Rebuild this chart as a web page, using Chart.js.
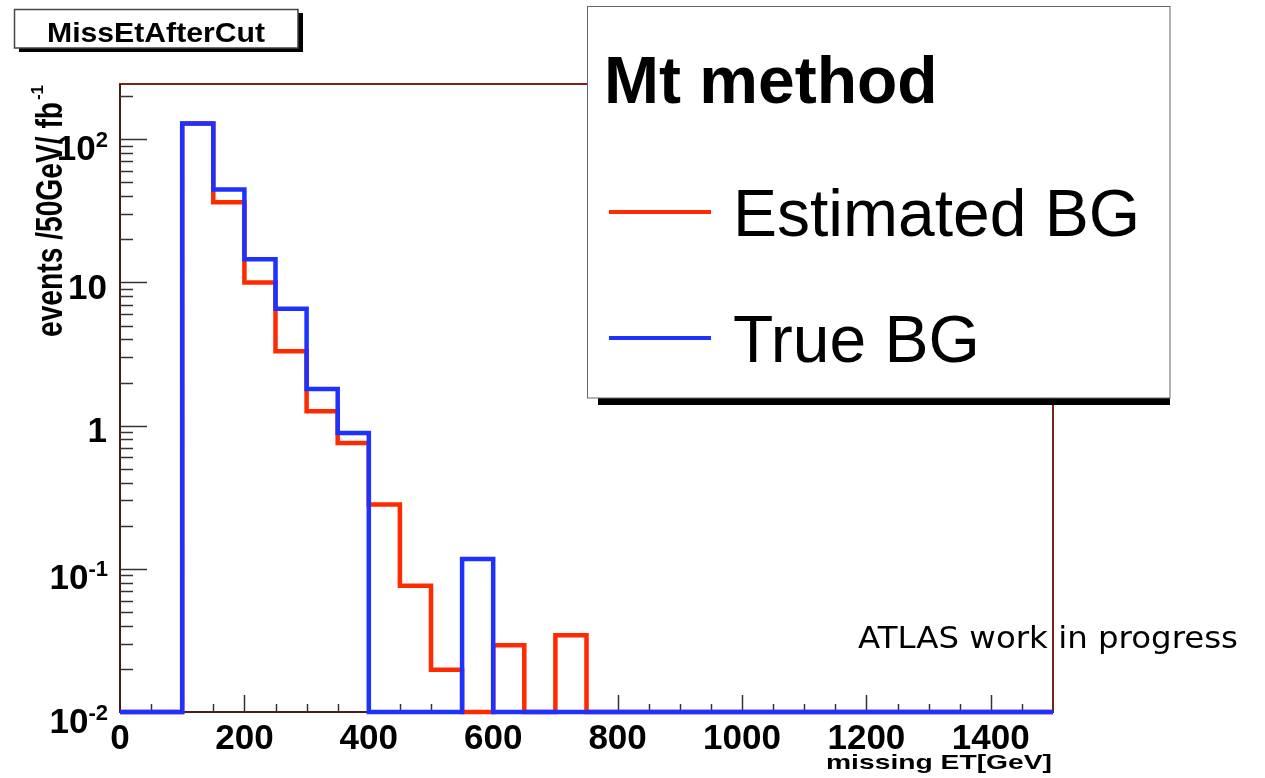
<!DOCTYPE html>
<html>
<head>
<meta charset="utf-8">
<script src="https://cdn.jsdelivr.net/npm/chart.js@4.4.0/dist/chart.umd.min.js"></script>
<style>
    html, body { margin: 0; padding: 0; background: #fff; }
    canvas { display: block; }
</style>
</head>
<body>
<canvas id="missEt" width="1265" height="778"></canvas>
<script>
// MissEtAfterCut - ROOT style log histogram (Mt method)

// bin edges, 50 GeV wide
const binEdges = [0, 50, 100, 150, 200, 250, 300, 350, 400, 450, 500, 550, 600, 650, 700, 750,
                  800, 850, 900, 950, 1000, 1050, 1100, 1150, 1200, 1250, 1300, 1350, 1400, 1450, 1500];

// events / 50GeV / fb-1 per bin (0 = empty bin)
const estimatedBG = [0, 0, 129, 36.3, 10.0, 3.30, 1.26, 0.757, 0.281, 0.0763, 0.0197, 0, 0.0292, 0, 0.0344,
                     0, 0, 0, 0, 0, 0, 0, 0, 0, 0, 0, 0, 0, 0, 0];
const trueBG = [0, 0, 129, 44.6, 14.5, 6.55, 1.80, 0.889, 0, 0, 0, 0.117, 0, 0, 0,
                0, 0, 0, 0, 0, 0, 0, 0, 0, 0, 0, 0, 0, 0, 0];

// axes
const xMajorTicks = [0, 200, 400, 600, 800, 1000, 1200, 1400];
const yDecades = [0.01, 0.1, 1, 10, 100];
const yTickLabels = [['10', '-2'], ['10', '-1'], ['1', ''], ['10', ''], ['10', '2']];
const yMin = 0.01, yMax = 243;

const FONT = '"Liberation Sans", Arial, Helvetica, sans-serif';

// empty bins sit on the floor of the log frame, like ROOT does
function histPoints(vals) {
    const pts = vals.map((v, i) => ({ x: binEdges[i], y: v > 0 ? v : yMin }));
    pts.push({ x: binEdges[vals.length], y: pts[pts.length - 1].y });
    return pts;
}

function fitText(ctx, text, x, y, font, width, align) {
    ctx.save();
    ctx.font = font;
    const w = ctx.measureText(text).width;
    ctx.translate(x, y);
    ctx.scale(width / w, 1);
    ctx.textAlign = align || 'left';
    ctx.textBaseline = 'alphabetic';
    ctx.fillText(text, 0, 0);
    ctx.restore();
}

const rootStyle = {
    id: 'rootStyle',
    beforeDatasetsDraw(chart) {
        const { ctx, chartArea: a, scales } = chart;
        const x = scales.x, y = scales.y;
        ctx.save();

        // frame
        ctx.strokeStyle = '#7a2418';
        ctx.lineWidth = 2;
        ctx.strokeRect(a.left, a.top, a.right - a.left, a.bottom - a.top);

        // axis lines
        ctx.strokeStyle = '#1a1a1a';
        ctx.lineWidth = 1.2;
        ctx.beginPath();
        ctx.moveTo(a.left, a.top); ctx.lineTo(a.left, a.bottom);
        ctx.lineTo(a.right, a.bottom);
        ctx.stroke();

        ctx.strokeStyle = '#333';
        ctx.lineWidth = 1.5;
        ctx.beginPath();
        // y ticks: decades + 2..9 minors
        yDecades.forEach(d => {
            const py = Math.round(y.getPixelForValue(d)) + 0.5;
            ctx.moveTo(a.left, py); ctx.lineTo(a.left + 27, py);
            for (let k = 2; k <= 9; k++) {
                if (d * k > yMax) break;
                const my = Math.round(y.getPixelForValue(d * k)) + 0.5;
                ctx.moveTo(a.left, my); ctx.lineTo(a.left + 13, my);
            }
        });
        // x ticks: minor every bin edge, major from list
        binEdges.forEach(e => {
            if (e === 0 || e === 1500) return;
            const px = Math.round(x.getPixelForValue(e)) + 0.5;
            const len = xMajorTicks.includes(e) ? 17 : 8;
            ctx.moveTo(px, a.bottom); ctx.lineTo(px, a.bottom - len);
        });
        ctx.stroke();
        ctx.restore();
    },
    afterDraw(chart) {
        const { ctx, chartArea: a, scales } = chart;
        const x = scales.x, y = scales.y;
        ctx.save();
        ctx.fillStyle = '#000';

        // x tick labels
        ctx.font = 'bold 35px ' + FONT;
        ctx.textAlign = 'center';
        ctx.textBaseline = 'alphabetic';
        xMajorTicks.forEach(t => ctx.fillText(String(t), x.getPixelForValue(t), 749));

        // y tick labels with exponents
        yDecades.forEach((d, i) => {
            const [base, exp] = yTickLabels[i];
            const py = y.getPixelForValue(d);
            ctx.textAlign = 'right';
            if (exp) {
                ctx.font = 'bold 22px ' + FONT;
                const ew = ctx.measureText(exp).width;
                ctx.fillText(exp, 108, py + 7.5);
                ctx.font = 'bold 35px ' + FONT;
                ctx.fillText(base, 108 - ew, py + 20.5);
            } else {
                ctx.font = 'bold 35px ' + FONT;
                ctx.fillText(base, 107, py + 16.5);
            }
        });

        // axis titles
        fitText(ctx, 'missing ET[GeV]', 1052, 769, 'bold 21px ' + FONT, 226, 'right');
        ctx.save();
        ctx.translate(62, 337);
        ctx.rotate(-Math.PI / 2);
        fitText(ctx, 'events /50GeV/ fb', 0, 0, 'bold 36px ' + FONT, 235, 'left');
        fitText(ctx, '-1', 237, -19, 'bold 17px ' + FONT, 15, 'left');
        ctx.restore();

        // ATLAS label
        fitText(ctx, 'ATLAS work in progress', 858, 648, '30px "DejaVu Sans", sans-serif', 380, 'left');

        // title box with shadow
        ctx.fillStyle = '#000';
        ctx.fillRect(298, 13, 5, 39);
        ctx.fillRect(19, 48, 284, 4);
        ctx.fillStyle = '#fff';
        ctx.fillRect(14, 9, 284, 39);
        ctx.strokeStyle = '#444';
        ctx.lineWidth = 1.5;
        ctx.strokeRect(14.5, 9.5, 283.5, 38.5);
        ctx.fillStyle = '#000';
        fitText(ctx, 'MissEtAfterCut', 156, 42, 'bold 27px ' + FONT, 218, 'center');

        // legend box
        ctx.fillStyle = '#000';
        ctx.fillRect(598, 398, 572, 7);
        ctx.fillStyle = '#fff';
        ctx.fillRect(587, 6, 583, 392);
        ctx.strokeStyle = '#666';
        ctx.lineWidth = 1;
        ctx.strokeRect(587.5, 6.5, 582.5, 391.5);

        ctx.fillStyle = '#000';
        ctx.textAlign = 'left';
        ctx.font = 'bold 66px ' + FONT;
        ctx.fillText('Mt method', 604, 103);

        const rows = [212, 338];
        [chart.data.datasets[0], chart.data.datasets[1]].forEach((ds, i) => {
            ctx.strokeStyle = ds.borderColor;
            ctx.lineWidth = 4;
            ctx.beginPath();
            ctx.moveTo(609, rows[i]); ctx.lineTo(711, rows[i]);
            ctx.stroke();
            ctx.fillStyle = '#000';
            ctx.font = '66px ' + FONT;
            ctx.fillText(ds.label, 733, rows[i] + 24);
        });
        ctx.restore();
    }
};

new Chart(document.getElementById('missEt'), {
    type: 'line',
    data: {
        datasets: [{
            label: 'Estimated BG',
            data: histPoints(estimatedBG),
            borderColor: '#ff2a00',
            order: 1,
            clip: 6
        }, {
            label: 'True BG',
            data: histPoints(trueBG),
            borderColor: '#1e32ff',
            order: 0,
            clip: 6
        }]
    },
    options: {
        responsive: false,
        animation: false,
        layout: { autoPadding: false, padding: { left: 120, right: 212, top: 84, bottom: 66 } },
        elements: {
            line: { stepped: true, borderWidth: 4.5, fill: false, tension: 0,
                    borderJoinStyle: 'miter', borderCapStyle: 'butt' },
            point: { radius: 0, hoverRadius: 0 }
        },
        scales: {
            x: { type: 'linear', min: 0, max: 1500, display: false },
            y: { type: 'logarithmic', min: yMin, max: yMax, display: false }
        },
        plugins: {
            legend: { display: false },
            tooltip: { enabled: false }
        }
    },
    plugins: [rootStyle]
});
</script>
</body>
</html>
